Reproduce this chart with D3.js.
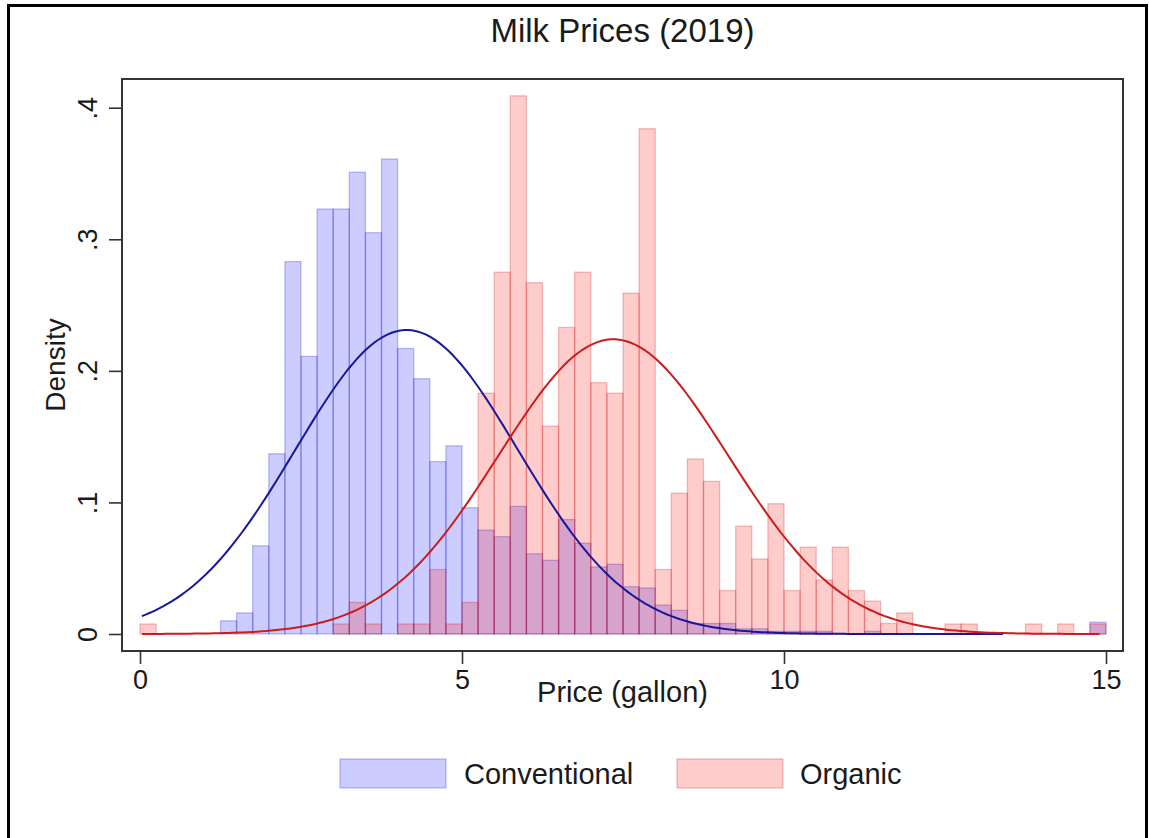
<!DOCTYPE html>
<html>
<head>
<meta charset="utf-8">
<script src="https://cdn.jsdelivr.net/npm/d3@7/dist/d3.min.js"></script>
<style>
  html, body { margin: 0; padding: 0; background: #fff; }
  svg { display: block; }
  text { font-family: "Liberation Sans", Arial, Helvetica, sans-serif; fill: #1a1a1a; }
</style>
</head>
<body>
<svg id="chart" width="1149" height="838"></svg>
<script>
// ---------------- data ----------------
const title = "Milk Prices (2019)";
const xTitle = "Price (gallon)";
const yTitle = "Density";
const seriesNames = ["Conventional", "Organic"];
const binWidth = 0.25;
const binStarts = [
  0, 0.25, 0.5, 0.75, 1, 1.25, 1.5, 1.75, 2, 2.25, 2.5, 2.75,
  3, 3.25, 3.5, 3.75, 4, 4.25, 4.5, 4.75, 5, 5.25, 5.5, 5.75,
  6, 6.25, 6.5, 6.75, 7, 7.25, 7.5, 7.75, 8, 8.25, 8.5, 8.75,
  9, 9.25, 9.5, 9.75, 10, 10.25, 10.5, 10.75, 11, 11.25, 11.5, 11.75,
  12, 12.25, 12.5, 12.75, 13, 13.25, 13.5, 13.75, 14, 14.25, 14.5, 14.75
];
const conventional = [
  0, 0, 0, 0, 0, 0.010, 0.016, 0.067, 0.137, 0.283, 0.211, 0.323,
  0.323, 0.351, 0.305, 0.361, 0.217, 0.194, 0.131, 0.143, 0.096, 0.079, 0.074, 0.097,
  0.061, 0.056, 0.087, 0.069, 0.051, 0.053, 0.036, 0.035, 0.022, 0.018, 0.008, 0.008,
  0.008, 0.004, 0.004, 0.002, 0.002, 0.002, 0.002, 0, 0, 0.002, 0, 0,
  0, 0, 0, 0, 0, 0, 0, 0, 0, 0, 0, 0.009
];
const organic = [
  0.0076, 0, 0, 0, 0, 0, 0, 0, 0, 0, 0, 0,
  0.0076, 0.024, 0.0076, 0, 0.0076, 0.0076, 0.049, 0.0076, 0.024, 0.183, 0.275, 0.409,
  0.267, 0.158, 0.233, 0.275, 0.191, 0.183, 0.259, 0.384, 0.049, 0.107, 0.133, 0.116,
  0.033, 0.082, 0.057, 0.099, 0.033, 0.066, 0.041, 0.066, 0.033, 0.025, 0.008, 0.016,
  0, 0, 0.0076, 0.0076, 0, 0, 0, 0.0076, 0, 0.0076, 0, 0.0076
];
// fitted normal overlays: [mean, sd, xmin, xmax]
const convNormal = [4.14, 1.727, 0.03, 13.4];
const orgNormal = [7.35, 1.781, 0.03, 14.9];
const xTicks = [0, 5, 10, 15];
const yTicks = [0, 0.1, 0.2, 0.3, 0.4];
const yTickLabels = ["0", ".1", ".2", ".3", ".4"];

// ---------------- layout ----------------
const svg = d3.select("#chart");
const frame = { left: 122, right: 1123, top: 79, bottom: 651 };
const x = d3.scaleLinear().domain([0, 15]).range([140, 1106]);
const y = d3.scaleLinear().domain([0, 0.4]).range([634, 107.7]);

const colors = {
  convFill: "rgba(0,0,255,0.2)", convStroke: "rgba(0,0,200,0.24)",
  orgFill: "rgba(255,0,0,0.2)", orgStroke: "rgba(200,0,0,0.24)",
  convLine: "#18189a", orgLine: "#cc1c1c"
};

// outer border
svg.append("rect").attr("x", 8.5).attr("y", 5.5).attr("width", 1138).attr("height", 860)
  .attr("fill", "none").attr("stroke", "#000").attr("stroke-width", 3);

// title
svg.append("text").attr("x", (frame.left + frame.right) / 2).attr("y", 42)
  .attr("text-anchor", "middle").attr("font-size", 33).text(title);

// histograms
function drawHist(vals, fill, stroke) {
  svg.append("g").selectAll("rect")
    .data(binStarts.map((b, i) => ({ b, v: vals[i] })).filter(d => d.v > 0))
    .join("rect")
    .attr("x", d => x(d.b))
    .attr("y", d => y(d.v))
    .attr("width", d => x(d.b + binWidth) - x(d.b))
    .attr("height", d => y(0) - y(d.v))
    .attr("fill", fill).attr("stroke", stroke).attr("stroke-width", 1.3);
}
drawHist(conventional, colors.convFill, colors.convStroke);
drawHist(organic, colors.orgFill, colors.orgStroke);

// normal curves
function normalCurve(p, color) {
  const [mu, sd, lo, hi] = p;
  const n = 200;
  const pts = d3.range(n + 1).map(k => {
    const xv = lo + (hi - lo) * k / n;
    const dv = Math.exp(-0.5 * ((xv - mu) / sd) ** 2) / (sd * Math.sqrt(2 * Math.PI));
    return [xv, dv];
  });
  svg.append("path").datum(pts)
    .attr("d", d3.line().x(d => x(d[0])).y(d => y(d[1])))
    .attr("fill", "none").attr("stroke", color).attr("stroke-width", 2);
}
normalCurve(convNormal, colors.convLine);
normalCurve(orgNormal, colors.orgLine);

// plot frame
svg.append("rect").attr("x", frame.left).attr("y", frame.top)
  .attr("width", frame.right - frame.left).attr("height", frame.bottom - frame.top)
  .attr("fill", "none").attr("stroke", "#333").attr("stroke-width", 2);

// axes
const xAxis = svg.append("g").attr("transform", `translate(0,${frame.bottom})`)
  .call(d3.axisBottom(x).tickValues(xTicks).tickFormat(d3.format("d")).tickSize(13).tickPadding(6));
const yAxis = svg.append("g").attr("transform", `translate(${frame.left},0)`)
  .call(d3.axisLeft(y).tickValues(yTicks).tickFormat((d, i) => yTickLabels[i]).tickSize(13).tickPadding(4));
[xAxis, yAxis].forEach(a => {
  a.select(".domain").remove();
  a.selectAll(".tick line").attr("stroke", "#333").attr("stroke-width", 1.6);
  a.selectAll("text").attr("font-size", 27).attr("fill", "#1a1a1a")
    .attr("font-family", "'Liberation Sans', Arial, sans-serif");
});
xAxis.selectAll("text").attr("dy", "0.72em");
yAxis.selectAll(".tick text")
  .attr("text-anchor", "middle").attr("x", null).attr("dy", null)
  .attr("transform", "translate(-33,0) rotate(-90)").attr("y", 8);

// axis titles
svg.append("text").attr("x", (frame.left + frame.right) / 2).attr("y", 702)
  .attr("text-anchor", "middle").attr("font-size", 29).text(xTitle);
svg.append("text").attr("transform", `translate(65,${(frame.top + frame.bottom) / 2}) rotate(-90)`)
  .attr("text-anchor", "middle").attr("font-size", 28).text(yTitle);

// legend
const legend = [
  { name: seriesNames[0], fill: colors.convFill, stroke: colors.convStroke, kx: 340, tx: 464 },
  { name: seriesNames[1], fill: colors.orgFill, stroke: colors.orgStroke, kx: 677, tx: 800 }
];
const lg = svg.append("g");
legend.forEach(l => {
  lg.append("rect").attr("x", l.kx).attr("y", 759).attr("width", 106).attr("height", 29)
    .attr("fill", l.fill).attr("stroke", l.stroke).attr("stroke-width", 1.3);
  lg.append("text").attr("x", l.tx).attr("y", 784).attr("font-size", 29).text(l.name);
});
</script>
</body>
</html>
